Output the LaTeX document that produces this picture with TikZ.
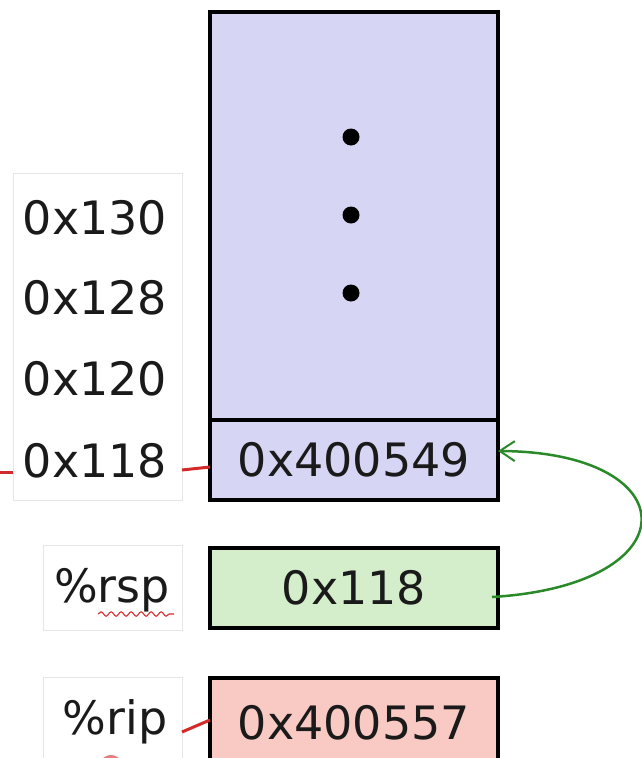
\documentclass[tikz,border=0pt]{standalone}
\usepackage{fontspec}
\setmainfont{DejaVu Sans}
\usetikzlibrary{arrows.meta,decorations.pathmorphing}
\definecolor{stackfill}{HTML}{D6D5F3}
\definecolor{regfill}{HTML}{D4EECB}
\definecolor{ipfill}{HTML}{F9C9C3}
\definecolor{linkred}{HTML}{D22A2A}
\definecolor{ptrgreen}{HTML}{2A8A2A}
\definecolor{labelrule}{HTML}{E6E6E6}
\definecolor{ink}{HTML}{1A1A1A}
\begin{document}
\begin{tikzpicture}[x=1pt,y=-1pt,
  cell/.style={draw=black, line width=3.5pt, minimum width=288pt, inner sep=0pt,
    text=ink, font=\fontsize{46}{55}\selectfont},
  labelbox/.style={draw=labelrule, line width=1pt, fill=white, inner sep=0pt},
  txt/.style={inner sep=0pt, text=ink, font=\fontsize{46}{55}\selectfont},
  dotmark/.style={circle, fill=black, inner sep=0pt, minimum size=17pt},
  redlink/.style={draw=linkred, line width=3pt},
  ptr/.style={draw=ptrgreen, line width=2.5pt, -{Straight Barb[length=15pt,width=20pt,line width=2pt]}}]
\useasboundingbox (0,0) rectangle (642,758);
\clip (0,0) rectangle (642,758);

% stack memory
\node[cell, fill=stackfill, minimum height=408pt] (stack) at (354,216) {};
\node[cell, fill=stackfill, minimum height=80pt] (top) at (354,460) {0x400549};
\node[dotmark] (d1) at (351,137) {};
\node[dotmark] (d2) at (351,215) {};
\node[dotmark] (d3) at (351,293) {};

% addresses
\node[labelbox, minimum width=169pt, minimum height=327pt] (addrs) at (97.5,336.5) {};
\node[txt] (a130) at (95,218) {0x130};
\node[txt] (a128) at (95,298) {0x128};
\node[txt] (a120) at (95,379) {0x120};
\node[txt] (a118) at (95,461) {0x118};

% registers
\node[labelbox, minimum width=139pt, minimum height=85pt] (rsplabel) at (112.5,587.5) {};
\node[txt] (rsptext) at (112,590) {\%rsp};
\node[cell, fill=regfill, minimum height=80pt] (rsp) at (354,588) {0x118};

\node[labelbox, minimum width=139pt, minimum height=100pt] (riplabel) at (112.5,727) {};
\node[txt] (riptext) at (115,722) {\%rip};
\node[cell, fill=ipfill, minimum height=90pt] (rip) at (354,723) {0x400557};

% spell-check squiggle under rsp
\coordinate (sq1) at (98,614);
\coordinate (sq2) at (174,614);
\draw[linkred, line width=1.1pt, decorate,
  decoration={snake, amplitude=2.2pt, segment length=10pt}] (sq1) -- (sq2);

% red connectors
\coordinate (offleft) at (0,472);
\coordinate (addrL) at (13,472);
\coordinate (addrR) at (182,470);
\coordinate (topL) at (210,467);
\draw[redlink] (offleft) -- (addrL);
\draw[redlink] (addrR) -- (topL);
\coordinate (ripR) at (182,732);
\coordinate (ripbox) at (210,720);
\draw[redlink] (ripR) -- (ripbox);
\coordinate (bl1) at (100,764);
\coordinate (bl2) at (122,764);
\draw[redlink, draw opacity=0.6] (bl1) .. controls (106,754) and (116,754) .. (bl2);

% rsp points at the top of the stack
\coordinate (rspptr) at (492,597);
\coordinate (toptip) at (498,451);
\draw[ptr] (rspptr) .. controls (692,585) and (688,452) .. (toptip);
\end{tikzpicture}
\end{document}
